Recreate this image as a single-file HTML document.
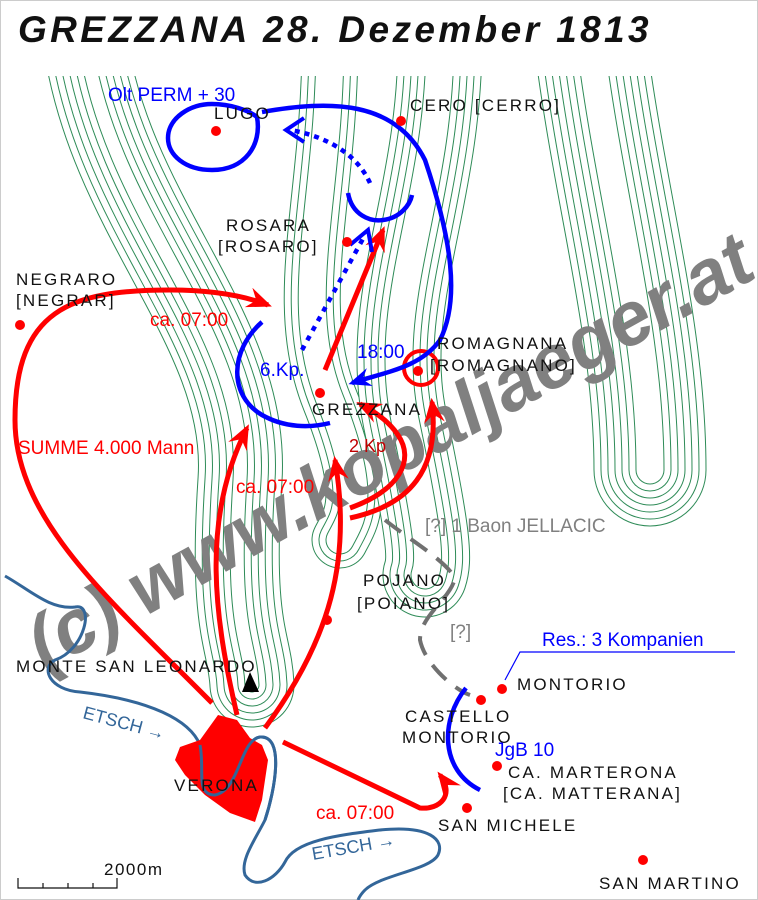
<!DOCTYPE html>
<html><head><meta charset="utf-8"><style>
html,body{margin:0;padding:0;background:#fff}
svg{display:block}
text{font-family:"Liberation Sans",sans-serif}
.lb{font-size:17px;fill:#111;letter-spacing:2.2px}
.rd{font-size:19px;fill:#f00}
.bl{font-size:19px;fill:#00f}
</style></head><body>
<svg width="758" height="900" viewBox="0 0 758 900" xmlns="http://www.w3.org/2000/svg">
<defs>
<clipPath id="map"><rect x="0" y="76" width="758" height="824"/></clipPath>
<marker id="ar" viewBox="0 0 12 10" refX="10" refY="5" markerWidth="5" markerHeight="5" orient="auto" markerUnits="strokeWidth"><path d="M0,0 L12,5 L0,10 L4,5 z" fill="#f00"/></marker>
<marker id="ab" viewBox="0 0 12 10" refX="10" refY="5" markerWidth="5" markerHeight="5" orient="auto" markerUnits="strokeWidth"><path d="M0,0 L12,5 L0,10 L4,5 z" fill="#00f"/></marker>
</defs>
<rect x="0.5" y="0.5" width="757" height="899" fill="#fff" stroke="#ccc"/>
<text x="18" y="42" style="font-size:37px;font-weight:bold;font-style:italic;letter-spacing:3.4px;fill:#111">GREZZANA 28. Dezember 1813</text>

<g clip-path="url(#map)" fill="none" stroke-linecap="round" stroke-linejoin="round">
<g>
<path d="M85,40 C110,220 250,330 240,480 S250,640 252,685" stroke="#2e8b57" stroke-width="85"/><path d="M85,40 C110,220 250,330 240,480 S250,640 252,685" stroke="#fff" stroke-width="83"/>
<path d="M85,40 C110,220 250,330 240,480 S250,640 252,685" stroke="#2e8b57" stroke-width="71"/><path d="M85,40 C110,220 250,330 240,480 S250,640 252,685" stroke="#fff" stroke-width="69"/>
<path d="M85,40 C110,220 250,330 240,480 S250,640 252,685" stroke="#2e8b57" stroke-width="57"/><path d="M85,40 C110,220 250,330 240,480 S250,640 252,685" stroke="#fff" stroke-width="55"/>
<path d="M85,40 C110,220 250,330 240,480 S250,640 252,685" stroke="#2e8b57" stroke-width="43"/><path d="M85,40 C110,220 250,330 240,480 S250,640 252,685" stroke="#fff" stroke-width="41"/>
<path d="M85,40 C110,220 250,330 240,480 S250,640 252,685" stroke="#2e8b57" stroke-width="29"/><path d="M85,40 C110,220 250,330 240,480 S250,640 252,685" stroke="#fff" stroke-width="27"/>
<path d="M85,40 C110,220 250,330 240,480 S250,640 252,685" stroke="#2e8b57" stroke-width="15"/><path d="M85,40 C110,220 250,330 240,480 S250,640 252,685" stroke="#fff" stroke-width="13"/>
</g>
<g>
<path d="M330,40 C330,200 290,300 330,400 S350,520 340,540" stroke="#2e8b57" stroke-width="57"/><path d="M330,40 C330,200 290,300 330,400 S350,520 340,540" stroke="#fff" stroke-width="55"/>
<path d="M330,40 C330,200 290,300 330,400 S350,520 340,540" stroke="#2e8b57" stroke-width="43"/><path d="M330,40 C330,200 290,300 330,400 S350,520 340,540" stroke="#fff" stroke-width="41"/>
<path d="M330,40 C330,200 290,300 330,400 S350,520 340,540" stroke="#2e8b57" stroke-width="29"/><path d="M330,40 C330,200 290,300 330,400 S350,520 340,540" stroke="#fff" stroke-width="27"/>
</g>
<g>
<path d="M440,40 C440,200 380,300 405,420 S430,560 425,575" stroke="#2e8b57" stroke-width="85"/><path d="M440,40 C440,200 380,300 405,420 S430,560 425,575" stroke="#fff" stroke-width="83"/>
<path d="M440,40 C440,200 380,300 405,420 S430,560 425,575" stroke="#2e8b57" stroke-width="71"/><path d="M440,40 C440,200 380,300 405,420 S430,560 425,575" stroke="#fff" stroke-width="69"/>
<path d="M440,40 C440,200 380,300 405,420 S430,560 425,575" stroke="#2e8b57" stroke-width="57"/><path d="M440,40 C440,200 380,300 405,420 S430,560 425,575" stroke="#fff" stroke-width="55"/>
<path d="M440,40 C440,200 380,300 405,420 S430,560 425,575" stroke="#2e8b57" stroke-width="43"/><path d="M440,40 C440,200 380,300 405,420 S430,560 425,575" stroke="#fff" stroke-width="41"/>
<path d="M440,40 C440,200 380,300 405,420 S430,560 425,575" stroke="#2e8b57" stroke-width="29"/><path d="M440,40 C440,200 380,300 405,420 S430,560 425,575" stroke="#fff" stroke-width="27"/>
</g>
<g>
<path d="M590,40 C610,200 650,330 650,470" stroke="#2e8b57" stroke-width="113"/><path d="M590,40 C610,200 650,330 650,470" stroke="#fff" stroke-width="111"/>
<path d="M590,40 C610,200 650,330 650,470" stroke="#2e8b57" stroke-width="99"/><path d="M590,40 C610,200 650,330 650,470" stroke="#fff" stroke-width="97"/>
<path d="M590,40 C610,200 650,330 650,470" stroke="#2e8b57" stroke-width="85"/><path d="M590,40 C610,200 650,330 650,470" stroke="#fff" stroke-width="83"/>
<path d="M590,40 C610,200 650,330 650,470" stroke="#2e8b57" stroke-width="71"/><path d="M590,40 C610,200 650,330 650,470" stroke="#fff" stroke-width="69"/>
<path d="M590,40 C610,200 650,330 650,470" stroke="#2e8b57" stroke-width="57"/><path d="M590,40 C610,200 650,330 650,470" stroke="#fff" stroke-width="55"/>
<path d="M590,40 C610,200 650,330 650,470" stroke="#2e8b57" stroke-width="43"/><path d="M590,40 C610,200 650,330 650,470" stroke="#fff" stroke-width="41"/>
<path d="M590,40 C610,200 650,330 650,470" stroke="#2e8b57" stroke-width="29"/><path d="M590,40 C610,200 650,330 650,470" stroke="#fff" stroke-width="27"/>
</g>
</g>

<!-- watermark -->
<text x="0" y="0" transform="translate(45,672) rotate(-29)" style="font-size:76px;font-weight:bold;font-style:italic;fill:#808080;letter-spacing:0px">(c) www.kopaljaeger.at</text>

<!-- river -->
<g fill="none" stroke="#336699" stroke-width="3">
<path d="M5,576 C30,590 50,610 75,607 C95,603 85,650 55,660 C40,668 50,690 80,692 C150,700 190,720 200,745 C205,770 195,795 215,795 C240,790 240,740 260,737 C285,735 275,790 265,820 C255,840 240,860 245,875 C255,890 275,880 285,862 C295,840 340,835 380,830 C430,825 445,840 438,855 C430,870 380,875 365,890 C360,895 358,900 358,900"/>
</g>
<text x="82" y="718" transform="rotate(15 82 718)" style="font-size:18px;fill:#336699">ETSCH →</text>
<text x="313" y="860" transform="rotate(-10 313 860)" style="font-size:18px;fill:#336699">ETSCH →</text>

<!-- Verona -->
<polygon points="218,715 237,720 250,738 262,745 268,760 262,800 255,822 230,813 205,795 185,775 175,760 180,747 200,740" fill="#f00"/>
<path d="M200,745 C205,770 195,795 215,795 C240,790 240,740 260,737 C285,735 275,790 265,820" fill="none" stroke="#336699" stroke-width="3"/>
<polygon points="250,672 242,692 259,692" fill="#000"/>

<!-- gray dashed -->
<path d="M385,520 C410,540 445,560 455,578 C450,600 420,615 420,640 C425,665 455,690 470,695" fill="none" stroke="#707070" stroke-width="4" stroke-dasharray="20,12"/>

<!-- red -->
<g fill="none" stroke="#f00" stroke-width="5">
<path d="M212,703 C110,600 15,520 15,420 C15,310 70,290 170,290 C220,290 250,298 268,305" marker-end="url(#ar)"/>
<path d="M237,715 C215,620 200,520 247,428" marker-end="url(#ar)"/>
<path d="M265,728 C330,640 352,560 335,460" marker-end="url(#ar)"/>
<path d="M350,508 C400,490 415,460 398,435 C388,420 372,410 360,404" marker-end="url(#ar)"/>
<path d="M350,518 C410,505 440,470 432,402" marker-end="url(#ar)"/>
<path d="M325,370 L383,230" marker-end="url(#ar)"/>
<circle cx="421" cy="368" r="17" stroke-width="4"/>
<path d="M283,742 L420,808 C440,810 455,795 440,775" marker-end="url(#ar)"/>
</g>

<!-- blue -->
<g fill="none" stroke="#00f" stroke-width="4.5">
<path d="M257,117 C262,145 245,170 212,170 C185,170 168,155 168,138 C168,118 190,104 212,104 C230,104 248,110 257,117"/>
<path d="M262,112 C330,100 395,100 425,160 C452,240 460,300 440,340 C420,368 385,372 352,383" marker-end="url(#ab)"/>
<path d="M370,183 C355,150 320,135 290,130" stroke-dasharray="5,5"/>
<path d="M304,118 L286,130 L304,142" stroke-width="4"/>
<path d="M348,193 C352,215 370,222 383,220 C400,218 410,205 412,195"/>
<path d="M302,350 L365,235" stroke-dasharray="5,6"/>
<path d="M350,245 L368,230 L372,252" stroke-width="4"/>
<path d="M262,322 C230,350 228,395 262,415 C285,428 310,428 330,423"/>
<path d="M466,688 C440,720 440,770 480,790"/>
</g>
<path d="M505,680 L520,652 L735,652" fill="none" stroke="#00f" stroke-width="1.2"/>

<!-- dots -->
<g fill="#f00">
<circle cx="216" cy="131" r="5"/><circle cx="401" cy="121" r="5"/><circle cx="347" cy="242" r="5"/>
<circle cx="20" cy="325" r="5"/><circle cx="320" cy="393" r="5"/><circle cx="418" cy="371" r="5"/>
<circle cx="327" cy="620" r="5"/><circle cx="502" cy="689" r="5"/><circle cx="481" cy="700" r="5"/>
<circle cx="497" cy="766" r="5"/><circle cx="467" cy="808" r="5"/><circle cx="643" cy="860" r="5"/>
</g>

<!-- labels -->
<text class="bl" x="108" y="101">Olt PERM + 30</text>
<text class="lb" x="214" y="119">LUGO</text>
<text class="lb" x="410" y="111">CERO [CERRO]</text>
<text class="lb" x="226" y="231">ROSARA</text>
<text class="lb" x="218" y="252">[ROSARO]</text>
<text class="lb" x="16" y="285">NEGRARO</text>
<text class="lb" x="16" y="306">[NEGRAR]</text>
<text class="rd" x="150" y="326">ca. 07:00</text>
<text class="bl" x="357" y="358">18:00</text>
<text class="lb" x="437" y="349">ROMAGNANA</text>
<text class="lb" x="430" y="371">[ROMAGNANO]</text>
<text class="bl" x="260" y="376">6.Kp.</text>
<text class="lb" x="312" y="415">GREZZANA</text>
<text class="rd" x="18" y="454">SUMME 4.000 Mann</text>
<text x="349" y="452" style="font-size:18px;fill:#c00000">2 Kp</text>
<text class="rd" x="236" y="493">ca. 07:00</text>
<text x="425" y="532" style="font-size:19px;fill:#808080">[?] 1 Baon JELLACIC</text>
<text class="lb" x="363" y="586">POJANO</text>
<text class="lb" x="357" y="609">[POIANO]</text>
<text x="450" y="638" style="font-size:19px;fill:#808080">[?]</text>
<text class="bl" x="542" y="646">Res.: 3 Kompanien</text>
<text class="lb" x="16" y="672">MONTE SAN LEONARDO</text>
<text class="lb" x="517" y="690">MONTORIO</text>
<text class="lb" x="405" y="722">CASTELLO</text>
<text class="lb" x="402" y="743">MONTORIO</text>
<text class="bl" x="495" y="756">JgB 10</text>
<text class="lb" x="508" y="778">CA. MARTERONA</text>
<text class="lb" x="503" y="799">[CA. MATTERANA]</text>
<text class="lb" x="174" y="791">VERONA</text>
<text class="rd" x="316" y="819">ca. 07:00</text>
<text class="lb" x="438" y="831">SAN MICHELE</text>
<text class="lb" x="599" y="889">SAN MARTINO</text>
<text class="lb" x="104" y="875" style="letter-spacing:1.5px">2000m</text>
<path d="M18,878 V888 H117 V878 M43,883 V888 M68,883 V888 M93,883 V888" fill="none" stroke="#111" stroke-width="1.2"/>
</svg>
</body></html>
